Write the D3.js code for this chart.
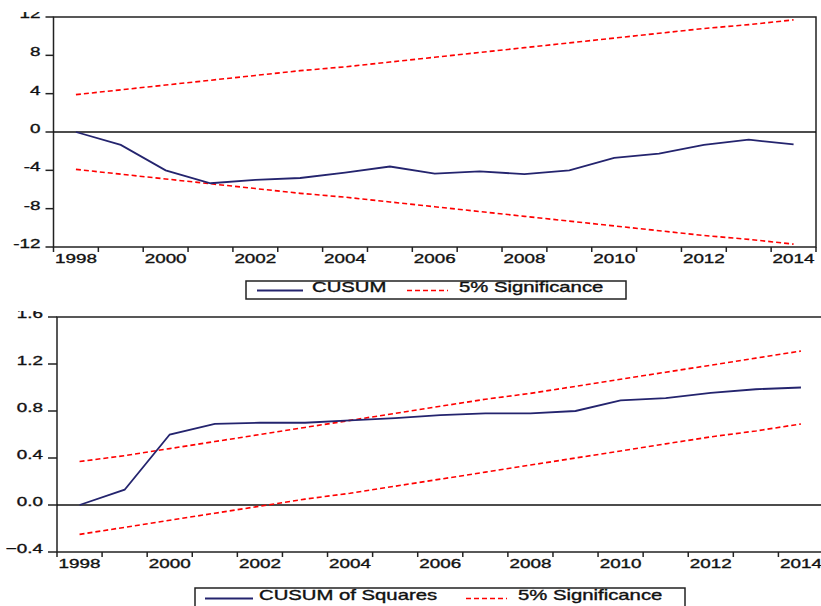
<!DOCTYPE html>
<html>
<head>
<meta charset="utf-8">
<script src="https://cdn.jsdelivr.net/npm/d3@7"></script>
<style>
  body { margin: 0; background: #fff; }
  text { font-family: "Liberation Sans", Arial, sans-serif; fill: #111; stroke: #111; stroke-width: 0.35px; }
</style>
</head>
<body>
<div id="chart"></div>
<script>
// years on the x axis
var years = [1998, 1999, 2000, 2001, 2002, 2003, 2004, 2005, 2006, 2007,
             2008, 2009, 2010, 2011, 2012, 2013, 2014];
var yearLabels = [1998, 2000, 2002, 2004, 2006, 2008, 2010, 2012, 2014];

// CUSUM test
var cusum      = [0, -1.35, -4.0, -5.35, -5.0, -4.8, -4.25, -3.6, -4.35, -4.1,
                  -4.4, -4.0, -2.7, -2.25, -1.35, -0.8, -1.3];
var cusumUpper = [3.9, 4.4, 4.9, 5.4, 5.9, 6.4, 6.8, 7.3, 7.8, 8.3,
                  8.8, 9.3, 9.8, 10.3, 10.8, 11.2, 11.7];
var cusumLower = [-3.9, -4.4, -4.9, -5.4, -5.9, -6.4, -6.8, -7.3, -7.8, -8.3,
                  -8.8, -9.3, -9.8, -10.3, -10.8, -11.2, -11.7];
var cusumTicks = [-12, -8, -4, 0, 4, 8, 12];

// CUSUM of squares test
var cusumSq = [0.0, 0.13, 0.6, 0.69, 0.70, 0.70, 0.72, 0.74, 0.765, 0.78,
               0.78, 0.80, 0.89, 0.91, 0.955, 0.985, 1.0];
var sqUpper = [0.37, 0.42, 0.48, 0.54, 0.60, 0.66, 0.72, 0.78, 0.84, 0.90,
               0.95, 1.01, 1.07, 1.13, 1.19, 1.25, 1.31];
var sqLower = [-0.25, -0.19, -0.13, -0.07, -0.01, 0.05, 0.10, 0.16, 0.22, 0.28,
               0.34, 0.40, 0.46, 0.52, 0.58, 0.63, 0.69];
var sqTicks = [-0.4, 0.0, 0.4, 0.8, 1.2, 1.6];

var navy = "#24246e", red = "#ff0000", ink = "#222";
var sx = 1.45; // the picture is stretched sideways

var svg = d3.select("#chart").append("svg")
    .attr("width", 821)
    .attr("height", 606);

function label(g, str, x, y, size, anchor) {
    return g.append("text")
        .attr("transform", "translate(" + x + "," + y + ") scale(" + sx + ",1)")
        .attr("text-anchor", anchor)
        .style("font-size", size + "px")
        .text(str);
}

function panel(p) {
    var clipId = "clip" + p.id;
    svg.append("clipPath").attr("id", clipId)
        .append("rect").attr("x", 0).attr("y", p.clipTop).attr("width", 821).attr("height", 606);
    var g = svg.append("g").attr("clip-path", "url(#" + clipId + ")");

    var x = d3.scaleLinear().domain([1998, 2015]).range([p.left, p.right]);
    var y = d3.scaleLinear().domain(p.domain).range([p.bottom, p.top]);

    // frame
    g.append("rect")
        .attr("x", p.left).attr("y", p.top)
        .attr("width", p.right - p.left).attr("height", p.bottom - p.top)
        .attr("fill", "none").attr("stroke", ink).attr("stroke-width", 1.5);

    // y axis ticks + labels
    p.ticks.forEach(function (t) {
        g.append("line")
            .attr("x1", p.left - p.tickLen).attr("x2", p.left)
            .attr("y1", y(t)).attr("y2", y(t))
            .attr("stroke", ink).attr("stroke-width", 1.5);
        label(g, p.fmt(t), p.left - p.tickLen - 5, y(t) + 1, 13, "end");
    });

    // x axis ticks at year boundaries, labels at year centres
    years.concat([2015]).forEach(function (yr) {
        g.append("line")
            .attr("x1", x(yr)).attr("x2", x(yr))
            .attr("y1", p.bottom).attr("y2", p.bottom + 5)
            .attr("stroke", ink).attr("stroke-width", 1.5);
    });
    yearLabels.forEach(function (yr) {
        label(g, String(yr), x(yr + 0.5), p.bottom + 16, 13, "middle");
    });

    // zero line
    g.append("line")
        .attr("x1", p.left).attr("x2", p.right)
        .attr("y1", y(0)).attr("y2", y(0))
        .attr("stroke", "#111").attr("stroke-width", 1.5);

    var line = d3.line()
        .x(function (d, i) { return x(years[i] + 0.5); })
        .y(function (d) { return y(d); });

    [p.upper, p.lower].forEach(function (s) {
        g.append("path").datum(s)
            .attr("d", line)
            .attr("fill", "none").attr("stroke", red)
            .attr("stroke-width", 1.6).attr("stroke-dasharray", "5,3");
    });
    g.append("path").datum(p.series)
        .attr("d", line)
        .attr("fill", "none").attr("stroke", navy).attr("stroke-width", 1.8);

    // legend
    var L = p.legend;
    g.append("rect")
        .attr("x", L.x0).attr("y", L.y0)
        .attr("width", L.x1 - L.x0).attr("height", L.y1 - L.y0)
        .attr("fill", "#fff").attr("stroke", ink).attr("stroke-width", 1.5);
    g.append("line")
        .attr("x1", L.line[0]).attr("x2", L.line[1])
        .attr("y1", L.ly).attr("y2", L.ly)
        .attr("stroke", navy).attr("stroke-width", 1.8);
    label(g, L.name, L.t1, L.base, 14, "start");
    g.append("line")
        .attr("x1", L.dash[0]).attr("x2", L.dash[1])
        .attr("y1", L.ly).attr("y2", L.ly)
        .attr("stroke", red).attr("stroke-width", 1.6).attr("stroke-dasharray", "5,3");
    label(g, "5% Significance", L.t2, L.base, 14, "start");
}

panel({
    id: 1, clipTop: 12,
    left: 53.5, right: 816, top: 17, bottom: 247, tickLen: 8,
    domain: [-12, 12], ticks: cusumTicks,
    fmt: function (t) { return String(t); },
    series: cusum, upper: cusumUpper, lower: cusumLower,
    legend: { x0: 246, x1: 626, y0: 281, y1: 299, ly: 290.5, base: 292,
              line: [257, 303], t1: 312, dash: [407, 448], t2: 459, name: "CUSUM" }
});

panel({
    id: 2, clipTop: 311,
    left: 57, right: 823.5, top: 317, bottom: 552, tickLen: 9,
    domain: [-0.4, 1.6], ticks: sqTicks,
    fmt: d3.format(".1f"),
    series: cusumSq, upper: sqUpper, lower: sqLower,
    legend: { x0: 195, x1: 685, y0: 588, y1: 610, ly: 598.5, base: 599.5,
              line: [205, 253], t1: 259, dash: [466, 507], t2: 518, name: "CUSUM of Squares" }
});
</script>
</body>
</html>
